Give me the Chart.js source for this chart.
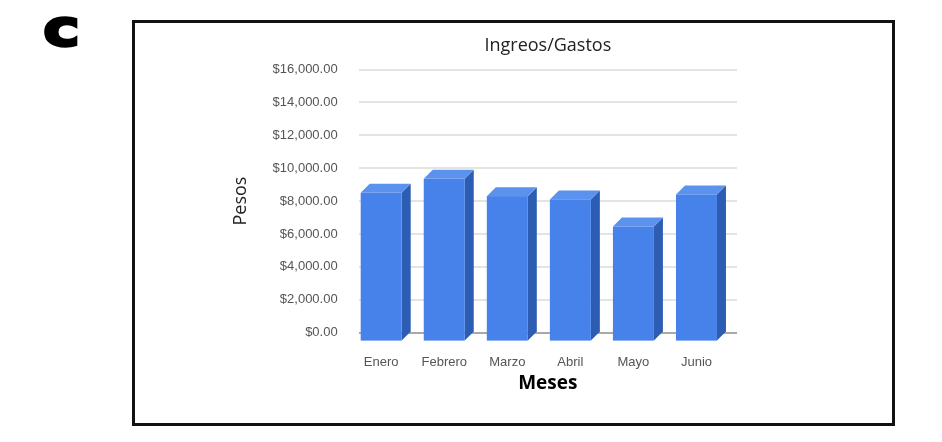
<!DOCTYPE html>
<html>
<head>
<meta charset="utf-8">
<script src="https://cdn.jsdelivr.net/npm/chart.js@4/dist/chart.umd.min.js"></script>
<style>
  html, body { margin: 0; padding: 0; background: #fff; overflow: hidden; }
  #letra {
    position: absolute; left: 43px; top: -2px;
    font-family: 'DejaVu Sans', sans-serif; font-weight: bold; font-size: 52px;
    color: #000; -webkit-text-stroke: 2.5px #000;
    transform: scaleX(1.2); transform-origin: left top;
  }
  #marco {
    position: absolute; left: 132px; top: 20px; width: 763px; height: 406px;
    border: 3px solid #111; box-sizing: border-box;
  }
  #wrap { position: absolute; left: 0; top: 0; width: 942px; height: 442px; }
</style>
</head>
<body>
<div id="letra">c</div>
<div id="marco"></div>
<div id="wrap"><canvas id="ingresosChart"></canvas></div>
<script>
  const meses = ['Enero', 'Febrero', 'Marzo', 'Abril', 'Mayo', 'Junio'];
  const pesos = [9050, 9900, 8850, 8650, 7000, 8950];
  const yMin = 0, yMax = 16000, yStep = 2000;

  const profundidad = 9; // 3D depth of the bars, px

  // draws the bars as 3D boxes from the positions Chart.js computed
  const barras3D = {
    id: 'barras3D',
    afterDatasetsDraw(chart) {
      const ctx = chart.ctx;
      const d = profundidad;
      chart.getDatasetMeta(0).data.forEach(bar => {
        const { x, y, base, width } = bar.getProps(['x', 'y', 'base', 'width'], true);
        const x0 = x - width / 2, x1 = x + width / 2;
        ctx.save();
        // side
        ctx.fillStyle = '#2d5cb3';
        ctx.beginPath();
        ctx.moveTo(x1 - d, y + d); ctx.lineTo(x1, y); ctx.lineTo(x1, base); ctx.lineTo(x1 - d, base + d);
        ctx.closePath(); ctx.fill();
        // top
        ctx.fillStyle = '#5b92ee';
        ctx.beginPath();
        ctx.moveTo(x0 - d, y + d); ctx.lineTo(x1 - d, y + d); ctx.lineTo(x1, y); ctx.lineTo(x0, y);
        ctx.closePath(); ctx.fill();
        // front
        ctx.fillStyle = '#4682ea';
        ctx.fillRect(x0 - d, y + d, width, base - y);
        ctx.restore();
      });
    }
  };

  var ctx = document.getElementById('ingresosChart').getContext('2d');
  new Chart(ctx, {
    type: 'bar',
    data: {
      labels: meses,
      datasets: [{
        label: 'Pesos',
        data: pesos,
        backgroundColor: 'rgba(0,0,0,0)',
        borderWidth: 0,
        barPercentage: 0.65,
        categoryPercentage: 1
      }]
    },
    options: {
      responsive: true,
      maintainAspectRatio: false,
      animation: false,
      layout: { padding: { top: 35, right: 205, bottom: 47, left: 230 } },
      plugins: { legend: { display: false }, tooltip: { enabled: false } },
      scales: {
        y: {
          min: yMin, max: yMax,
          ticks: {
            stepSize: yStep, padding: 21, color: '#555',
            font: { family: 'Liberation Sans', size: 13 },
            callback: v => '$' + v.toLocaleString('en-US', { minimumFractionDigits: 2, maximumFractionDigits: 2 })
          },
          grid: {
            drawTicks: false, lineWidth: 2,
            color: c => c.tick.value === 0 ? '#a9a9a9' : '#e4e4e4'
          },
          border: { display: false },
          title: {
            display: true, text: 'Pesos', color: '#222',
            font: { family: 'Open Sans', size: 18 },
            padding: { top: 0, bottom: 0 }
          }
        },
        x: {
          grid: { display: false, drawTicks: false },
          border: { display: false },
          ticks: {
            padding: 22, labelOffset: -profundidad, color: '#555',
            font: { family: 'Liberation Sans', size: 13 }
          },
          title: {
            display: true, text: 'Meses', color: '#000',
            font: { family: 'Open Sans', size: 19, weight: 'bold' },
            padding: { top: -20, bottom: 0 }
          }
        },
        titulo: {
          type: 'category', position: 'top', axis: 'x',
          grid: { display: false, drawTicks: false },
          border: { display: false },
          ticks: { display: false },
          title: {
            display: true, text: 'Ingreos/Gastos', color: '#222',
            font: { family: 'Open Sans', size: 18 },
            padding: { top: 0, bottom: 13 }
          }
        }
      }
    },
    plugins: [barras3D]
  });
</script>
</body>
</html>
